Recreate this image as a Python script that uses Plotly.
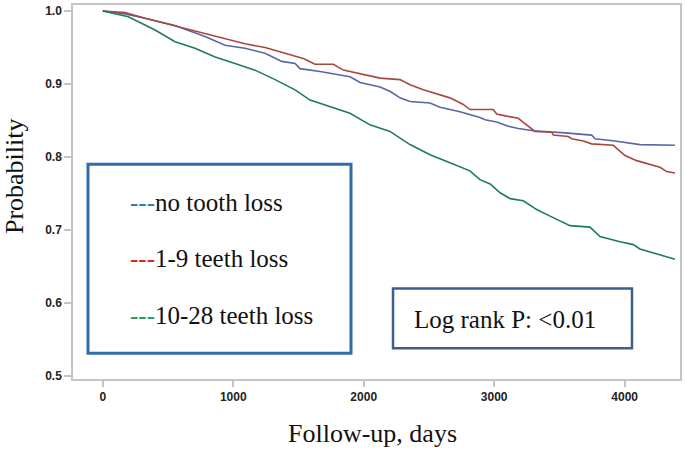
import plotly.graph_objects as go

# Kaplan-Meier curve vertices (days, survival probability)
days_none = [0, 171, 324, 477, 554, 631, 707, 784, 937, 1090, 1244, 1372, 1474, 1512, 1665, 1819, 1895, 1972,
             2125, 2201, 2278, 2355, 2508, 2585, 2738, 2891, 2930, 3019, 3108, 3185, 3300, 3543, 3747, 3772,
             3926, 4117, 4385]
surv_none = [1.0, 0.996, 0.990, 0.984, 0.980, 0.975, 0.970, 0.965, 0.953, 0.949, 0.942, 0.931, 0.928, 0.921,
             0.917, 0.913, 0.910, 0.902, 0.896, 0.890, 0.881, 0.876, 0.874, 0.868, 0.862, 0.854, 0.851, 0.848,
             0.842, 0.839, 0.836, 0.833, 0.830, 0.825, 0.822, 0.817, 0.816]

days_1_9 = [0, 171, 324, 477, 631, 784, 937, 1090, 1244, 1474, 1537, 1627, 1767, 1844, 1946, 2048, 2125, 2278,
            2355, 2457, 2559, 2661, 2763, 2814, 2993, 3019, 3096, 3185, 3211, 3262, 3313, 3441, 3453, 3568, 3594,
            3683, 3747, 3913, 3964, 4002, 4092, 4168, 4270, 4322, 4385]
surv_1_9 = [1.0, 0.998, 0.990, 0.983, 0.976, 0.969, 0.962, 0.955, 0.950, 0.938, 0.935, 0.927, 0.927, 0.919,
            0.915, 0.911, 0.908, 0.906, 0.899, 0.892, 0.887, 0.881, 0.872, 0.865, 0.865, 0.859, 0.856, 0.853,
            0.849, 0.842, 0.835, 0.834, 0.830, 0.828, 0.825, 0.822, 0.818, 0.816, 0.808, 0.802, 0.795, 0.791,
            0.786, 0.780, 0.778]

days_10_28 = [0, 196, 401, 554, 707, 861, 1014, 1167, 1321, 1474, 1589, 1742, 1895, 2048, 2201, 2355, 2508,
              2661, 2814, 2891, 2969, 3045, 3122, 3223, 3326, 3428, 3504, 3581, 3734, 3811, 3964, 4066, 4117,
              4219, 4296, 4385]
surv_10_28 = [1.0, 0.992, 0.974, 0.958, 0.949, 0.937, 0.928, 0.919, 0.906, 0.892, 0.878, 0.869, 0.860, 0.844,
              0.835, 0.817, 0.803, 0.792, 0.781, 0.769, 0.763, 0.751, 0.743, 0.740, 0.728, 0.719, 0.713, 0.706,
              0.704, 0.691, 0.684, 0.680, 0.674, 0.669, 0.665, 0.660]

x_ticks = [0, 1000, 2000, 3000, 4000]
y_ticks = [0.5, 0.6, 0.7, 0.8, 0.9, 1.0]
y_tick_labels = ["0.5", "0.6", "0.7", "0.8", "0.9", "1.0"]

legend_items = [("no tooth loss", "#2a7ab8"), ("1-9 teeth loss", "#e0201a"), ("10-28 teeth loss", "#23a05a")]

fig = go.Figure()
for xs, ys, col in [(days_none, surv_none, "#5a66a3"),
                    (days_1_9, surv_1_9, "#a8473f"),
                    (days_10_28, surv_10_28, "#1f7a5e")]:
    fig.add_trace(go.Scatter(x=xs, y=ys, mode="lines", line=dict(color=col, width=1.6, shape="linear"),
                             showlegend=False, hoverinfo="skip"))

serif = "Liberation Serif, Times New Roman, serif"
tickfont = dict(family="Liberation Sans, Arial, sans-serif", size=12, color="#222222", weight="bold")

fig.update_layout(
    width=685, height=451,
    margin=dict(l=73, r=5, t=3, b=72),
    paper_bgcolor="white", plot_bgcolor="white",
    xaxis=dict(range=[-228, 4424], tickvals=x_ticks, ticktext=[str(v) for v in x_ticks],
               showgrid=False, zeroline=False, showline=True, linecolor="#c4c4c4", linewidth=1.5,
               mirror=True, ticks="outside", ticklen=6, tickcolor="#c4c4c4", tickwidth=1.5,
               tickfont=tickfont),
    yaxis=dict(range=[0.4959, 1.0082], tickvals=y_ticks, ticktext=y_tick_labels,
               showgrid=False, zeroline=False, showline=True, linecolor="#c4c4c4", linewidth=1.5,
               mirror=True, ticks="outside", ticklen=7, tickcolor="#c4c4c4", tickwidth=1.5,
               tickfont=tickfont),
    shapes=[
        dict(type="rect", xref="paper", yref="paper", x0=0.0247, x1=0.458, y0=0.069, y1=0.574,
             line=dict(color="#2f6da8", width=3), fillcolor="white", layer="above"),
        dict(type="rect", xref="paper", yref="paper", x0=0.5272, x1=0.9209, y0=0.0824, y1=0.242,
             line=dict(color="#3e5f8c", width=2.5), fillcolor="white", layer="above"),
    ],
)

annotations = [
    dict(text="Probability", xref="paper", yref="paper", x=(14 - 73) / 607, y=0.5426, textangle=-90,
         showarrow=False, font=dict(family=serif, size=26, color="#111111"), xanchor="center", yanchor="middle"),
    dict(text="Follow-up, days", xref="paper", yref="paper", x=(372.5 - 73) / 607, y=(379 - 434) / 376,
         showarrow=False, font=dict(family=serif, size=26, color="#111111"), xanchor="center", yanchor="middle"),
    dict(text="Log rank P: <0.01", xref="paper", yref="paper", x=0.7125, y=0.1596,
         showarrow=False, font=dict(family=serif, size=25, color="#111111"), xanchor="center", yanchor="middle"),
]
for (label, col), ypix in zip(legend_items, [202, 258, 315]):
    annotations.append(dict(text=f"<span style='color:{col}'>---</span>{label}", xref="paper", yref="paper",
                            x=(128 - 73) / 607, y=(379 - ypix) / 376, xanchor="left", yanchor="middle",
                            showarrow=False, font=dict(family=serif, size=25, color="#111111")))
fig.update_layout(annotations=annotations)

fig.write_html("out.html", config={"displayModeBar": False},
               post_script="document.body.style.margin='0px';document.body.style.overflow='hidden';")
